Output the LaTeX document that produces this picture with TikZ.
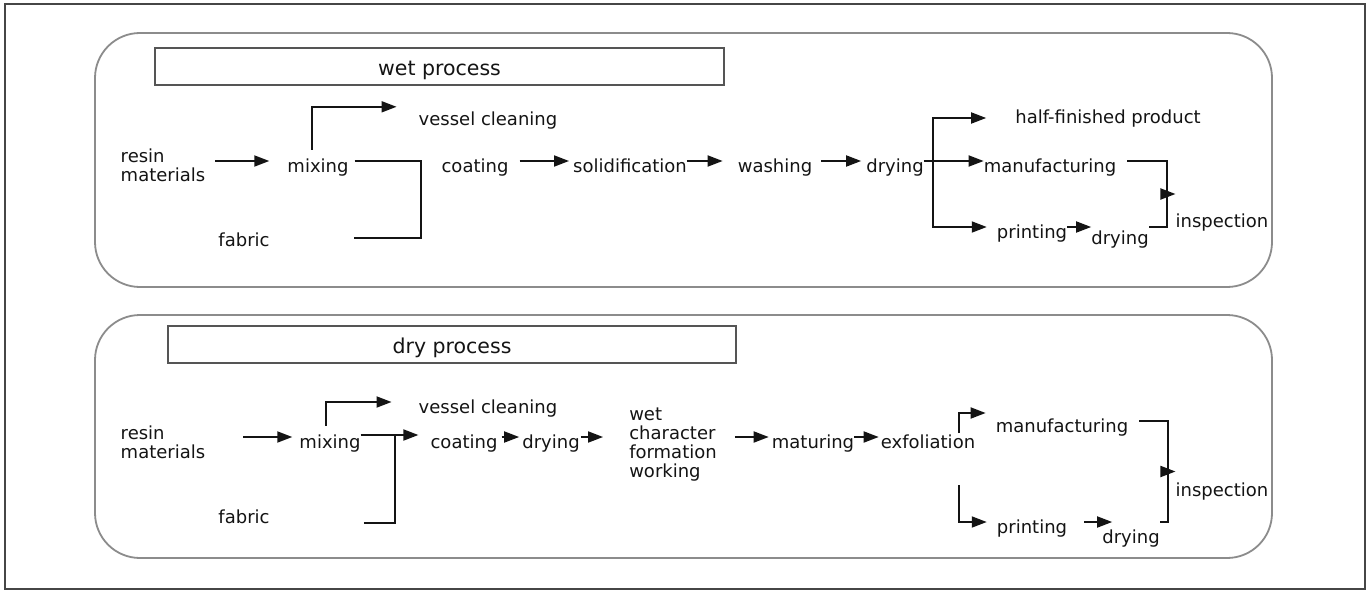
\documentclass[tikz,border=0pt]{standalone}
\usepackage{fontspec}
\setmainfont{DejaVu Sans}
\usetikzlibrary{arrows.meta}
\usepackage{xcolor}
\definecolor{figink}{RGB}{20,20,20}
\definecolor{figframe}{RGB}{70,70,70}
\definecolor{figpanel}{RGB}{140,140,140}
\definecolor{figtitle}{RGB}{85,85,85}

\begin{document}
\begin{tikzpicture}[x=1pt,y=-1pt,>=Stealth]

% canvas (pixel grid, y runs downwards)
\useasboundingbox (0,0) rectangle (1372,591);
\fill[white] (0,0) rectangle (1372,591);
\draw[figframe,line width=1.4pt] (5,4) rectangle (1365,589);

\tikzset{
  panel/.style={
    draw=figpanel,
    line width=1.8pt,
    rounded corners=45pt
  },
  caption/.style={
    draw=figtitle,
    line width=1.4pt,
    minimum height=37pt,
    inner sep=0pt,
    text height=20pt,
    text depth=2pt,
    text=figink,
    font=\fontsize{20.5}{22}\selectfont
  },
  % text height 22pt and depth 0pt: the anchor line sits on the x-height
  % (for several lines, on the x-height of the last one)
  txt/.style={
    inner sep=0pt,
    text height=22pt,
    text depth=0pt,
    text=figink,
    align=left,
    font=\fontsize{18}{19}\selectfont
  },
  line/.style={
    draw=figink,
    line width=1.8pt
  },
  flow/.style={
    draw=figink,
    line width=1.8pt,
    -{Triangle[length=15pt,width=11pt]}
  }
}

% panels
\draw[panel] (95,33) rectangle (1272,287);
\draw[panel] (95,315) rectangle (1272,558);

% panel titles
\node[caption,minimum width=569pt] (wtitle) at (439.5,66.5) {wet process};
\node[caption,minimum width=568pt] (dtitle) at (452,344.5) {dry process};

% ---------------- wet process ----------------
\node[txt] (wresin)  at (163,170) {resin\\materials};
\node[txt] (wmix)    at (318,161) {mixing};
\node[txt] (wvessel) at (488,114) {vessel cleaning};
\node[txt] (wfabric) at (244,235) {fabric};
\node[txt] (wcoat)   at (475,161) {coating};
\node[txt] (wsolid)  at (630,161) {solidification};
\node[txt] (wwash)   at (775,161) {washing};
\node[txt] (wdry)    at (895,161) {drying};
\node[txt] (whalf)   at (1108,113) {half-finished product};
\node[txt] (wmanu)   at (1050,161) {manufacturing};
\node[txt] (wprint)  at (1032,227) {printing};
\node[txt] (wdry2)   at (1120,233) {drying};
\node[txt] (winsp)   at (1222,216) {inspection};

% wet connectors
\draw[flow,shorten <=10pt,shorten >=18pt] (wresin.east |- wmix) -- (wmix.west);
\draw[flow] ([xshift=-6pt]wmix.north) |- ([xshift=-22pt,yshift=-4pt]wvessel.north west);
\draw[line] ([xshift=6pt]wmix.east) -| ([xshift=-20pt,yshift=-3pt]wcoat.west |- wfabric)
  -- ([xshift=84pt,yshift=-3pt]wfabric.east);
\draw[flow,shorten <=11pt,shorten >=4pt] (wcoat.east) -- (wsolid.west);
\draw[flow,shorten >=15pt] (wsolid.east) -- (wwash.west);
\draw[flow,shorten <=9pt,shorten >=5pt] (wwash.east) -- (wdry.west);

% fork after drying
\draw[line] (wdry.east) -- ++(9pt,0) coordinate (wfork);
\draw[flow] (wfork) |- ([xshift=-29pt,yshift=-5pt]whalf.west);
\draw[flow] (wfork) -- (wmanu.west);
\draw[flow] (wfork) |- ([xshift=-10pt]wprint.west);
\draw[flow] (wprint.east) -- (wprint.east -| wdry2.west);

% merge into inspection
\draw[line] ([xshift=11pt]wmanu.east) -| coordinate[pos=.75] (wmerge)
  ([xshift=18pt]wdry2.east |- wprint) -- (wdry2.east |- wprint);
\draw[flow] (wmerge) -- (wmerge -| winsp.west);

% ---------------- dry process ----------------
\node[txt] (dresin)  at (163,447) {resin\\materials};
\node[txt] (dmix)    at (330,437) {mixing};
\node[txt] (dvessel) at (488,402) {vessel cleaning};
\node[txt] (dfabric) at (244,512) {fabric};
\node[txt] (dcoat)   at (464,437) {coating};
\node[txt] (ddry)    at (551,437) {drying};
\node[txt] (dwet)    at (673,466) {wet\\character\\formation\\working};
\node[txt] (dmat)    at (813,437) {maturing};
\node[txt] (dexf)    at (928,437) {exfoliation};
\node[txt] (dmanu)   at (1062,421) {manufacturing};
\node[txt] (dprint)  at (1032,522) {printing};
\node[txt] (ddry2)   at (1131,532) {drying};
\node[txt] (dinsp)   at (1222,485) {inspection};

% dry connectors
\draw[flow,shorten <=38pt,shorten >=7pt] (dresin.east |- dmix) -- (dmix.west);
\draw[flow] ([xshift=-4pt]dmix.north) |- ([xshift=-27pt]dvessel.west);
\draw[flow] ([yshift=2pt]dmix.east) -- ([xshift=-12pt,yshift=2pt]dcoat.west);
\draw[line] ([xshift=94pt,yshift=-11pt]dfabric.east) -| ([xshift=-35pt,yshift=2pt]dcoat.west |- dmix);
\draw[flow,shorten <=4pt,shorten >=3pt] (dcoat.east) -- (ddry.west);
\draw[flow,shorten <=1pt,shorten >=26pt] (ddry.east) -- (ddry.east -| dwet.west);
\draw[flow,shorten <=18pt,shorten >=3pt] (dwet.east |- dmat) -- (dmat.west);
\draw[flow,shorten >=2pt] (dmat.east) -- (dexf.west);

% branches after exfoliation
\draw[flow,shorten <=4pt] ([xshift=31pt]dexf.center) |- ([xshift=-10pt,yshift=8pt]dmanu.west);
\draw[flow,shorten <=48pt] ([xshift=31pt]dexf.center) |- ([xshift=-10pt]dprint.west);
\draw[flow,shorten <=17pt,shorten >=-10pt] (dprint.east) -- (dprint.east -| ddry2.west);

% merge into inspection
\draw[line] ([xshift=11pt]dmanu.east) -| coordinate[pos=.75] (dmerge)
  ([xshift=8pt]ddry2.east |- dprint) -- (ddry2.east |- dprint);
\draw[flow] (dmerge) -- (dmerge -| dinsp.west);

\end{tikzpicture}
\end{document}
